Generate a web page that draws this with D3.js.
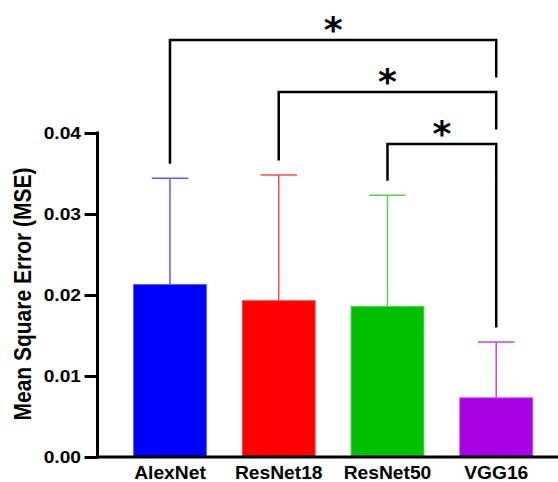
<!DOCTYPE html>
<html>
<head>
<meta charset="utf-8">
<script src="https://cdn.jsdelivr.net/npm/d3@7"></script>
<style>
  html, body { margin: 0; padding: 0; background: #fff; }
  svg { display: block; }
  text { font-family: "Liberation Sans", Arial, Helvetica, sans-serif; font-weight: bold; fill: #000; }
</style>
</head>
<body>
<svg id="chart" width="558" height="482"></svg>
<script>
// ---- data ----
const categories = ["AlexNet", "ResNet18", "ResNet50", "VGG16"];
const meanValues = [0.0213, 0.0193, 0.0186, 0.0073];
const sdValues   = [0.0131, 0.0155, 0.0137, 0.0069];
const barColors  = ["#0000ff", "#ff0000", "#00c000", "#a800e4"];
const errColors  = ["#5a5aff", "#ff4a4a", "#5ccc5c", "#bd45ee"];
const yTicks     = [0, 0.01, 0.02, 0.03, 0.04];
const yTickLabels = ["0.00", "0.01", "0.02", "0.03", "0.04"];
const comparisonLeft  = ["ResNet50", "ResNet18", "AlexNet"];
const comparisonRight = ["VGG16", "VGG16", "VGG16"];
const comparisonMarks = ["*", "*", "*"];
const yTitle = "Mean Square Error (MSE)";

// ---- layout ----
const svg = d3.select("#chart");
const plotLeft = 97.5, plotRight = 560, plotBottom = 457, plotTop = 133;

const x = d3.scaleBand()
  .domain(categories)
  .range([115.6, 550.6])
  .paddingInner(0.33)
  .paddingOuter(0.165);

const y = d3.scaleLinear().domain([0, 0.04]).range([plotBottom, plotTop]);

const data = categories.map((c, i) => ({
  cat: c, mean: meanValues[i], sd: sdValues[i], color: barColors[i], ecolor: errColors[i]
}));

// bars
svg.append("g").selectAll("rect").data(data).join("rect")
  .attr("x", d => x(d.cat))
  .attr("y", d => y(d.mean))
  .attr("width", x.bandwidth())
  .attr("height", d => y(0) - y(d.mean))
  .attr("fill", d => d.color)
  .attr("stroke", d => d.ecolor)
  .attr("stroke-width", 1);

// error bars
const capHalf = x.bandwidth() * 0.25;
const eg = svg.append("g");
eg.selectAll("line.v").data(data).join("line")
  .attr("class", "v")
  .attr("x1", d => x(d.cat) + x.bandwidth() / 2)
  .attr("x2", d => x(d.cat) + x.bandwidth() / 2)
  .attr("y1", d => y(d.mean))
  .attr("y2", d => y(d.mean + d.sd))
  .attr("stroke", d => d.ecolor).attr("stroke-width", 1.5);
eg.selectAll("line.c").data(data).join("line")
  .attr("class", "c")
  .attr("x1", d => x(d.cat) + x.bandwidth() / 2 - capHalf)
  .attr("x2", d => x(d.cat) + x.bandwidth() / 2 + capHalf)
  .attr("y1", d => y(d.mean + d.sd))
  .attr("y2", d => y(d.mean + d.sd))
  .attr("stroke", d => d.ecolor).attr("stroke-width", 1.5);

// y axis
const yAxis = d3.axisLeft(y)
  .tickValues(yTicks)
  .tickFormat((d, i) => yTickLabels[i])
  .tickSize(13)
  .tickSizeOuter(0)
  .tickPadding(4);
const yg = svg.append("g").attr("transform", `translate(${plotLeft},0)`).call(yAxis);
yg.select(".domain").attr("stroke", "#000").attr("stroke-width", 3)
  .attr("d", `M0,${plotTop - 1.5}V${plotBottom + 1.5}`);
yg.selectAll(".tick line").attr("stroke", "#000").attr("stroke-width", 3);
yg.selectAll(".tick text")
  .attr("x", 0)
  .attr("dy", "0.36em")
  .attr("transform", "translate(-16.5,0) scale(1.2,1)")
  .style("font-size", "16px")
  .style("font-family", "'Liberation Sans', Arial, sans-serif")
  .style("font-weight", "bold")
  .attr("fill", "#000");

// x axis
const xAxis = d3.axisBottom(x).tickSize(0).tickPadding(9.5);
const xg = svg.append("g").attr("transform", `translate(0,${plotBottom})`).call(xAxis);
xg.select(".domain").attr("stroke", "#000").attr("stroke-width", 3)
  .attr("d", `M${plotLeft - 1.5},0H${plotRight}`);
xg.selectAll(".tick text")
  .attr("transform", "scale(1.1,1)")
  .style("font-size", "17.5px")
  .style("font-family", "'Liberation Sans', Arial, sans-serif")
  .style("font-weight", "bold")
  .attr("fill", "#000");

// y title
svg.append("text")
  .attr("transform", `translate(30.5,${(168 + 420) / 2}) scale(1.13,1) rotate(-90)`)
  .attr("text-anchor", "middle")
  .style("font-size", "21px")
  .text(yTitle);

// significance brackets
const cx = c => x(c) + x.bandwidth() / 2;
const byCat = Object.fromEntries(data.map(d => [d.cat, d]));
const maxTop = d3.max(data, d => d.mean + d.sd);
const legGap = 14.5, levelStep = 52;
const firstLevel = y(maxTop) - 31;
const bg = svg.append("g");
comparisonLeft.forEach((l, i) => {
  const r = comparisonRight[i];
  const hy = firstLevel - i * levelStep;
  const leftEnd = y(byCat[l].mean + byCat[l].sd) - legGap;
  const rightEnd = i === 0 ? y(byCat[r].mean + byCat[r].sd) - legGap
                           : firstLevel - (i - 1) * levelStep - legGap;
  bg.append("path")
    .attr("d", `M${cx(l)},${leftEnd}V${hy}H${cx(r)}V${rightEnd}`)
    .attr("fill", "none").attr("stroke", "#000").attr("stroke-width", 2.5);
  const fs = 36;
  bg.append("text")
    .attr("x", (cx(l) + cx(r)) / 2)
    .attr("y", hy - 18.5 + fs * 0.56)
    .attr("text-anchor", "middle")
    .style("font-family", "'DejaVu Sans', sans-serif")
    .style("font-weight", "bold")
    .style("font-size", fs + "px")
    .text(comparisonMarks[i]);
});
</script>
</body>
</html>
